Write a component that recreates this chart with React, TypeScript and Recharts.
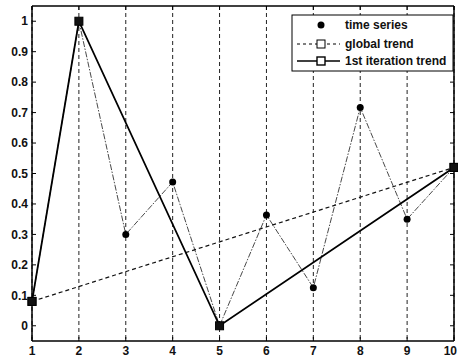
import React from 'react';
import { ComposedChart, Line, XAxis, YAxis, CartesianGrid } from 'recharts';

const xs = [1, 2, 3, 4, 5, 6, 7, 8, 9, 10];
const timeSeries = [0.08, 1.0, 0.3, 0.472, 0.0, 0.364, 0.125, 0.717, 0.35, 0.52];
const globalTrend: (number | null)[] = [0.08, null, null, null, null, null, null, null, null, 0.52];
const firstIteration: (number | null)[] = [0.08, 1.0, null, null, 0.0, null, null, null, null, 0.52];
const xTicks = [1, 2, 3, 4, 5, 6, 7, 8, 9, 10];
const yTicks = [0, 0.1, 0.2, 0.3, 0.4, 0.5, 0.6, 0.7, 0.8, 0.9, 1];
const legendLabels = ['time series', 'global trend', '1st iteration trend'];

const data = xs.map((x, i) => ({
  x,
  ts: timeSeries[i],
  global: globalTrend[i],
  first: firstIteration[i],
}));

const FONT = '"Liberation Sans", Arial, sans-serif';

const BottomTick = (props: any) => {
  const { x, y, payload } = props;
  const last = payload.value === xTicks[xTicks.length - 1];
  return (
    <g>
      <line x1={x} y1={y} x2={x} y2={y - 4} stroke="#000" strokeWidth={1} />
      <text
        x={last ? 457 : x}
        y={y + 10}
        dy="0.35em"
        textAnchor={last ? 'end' : 'middle'}
        fontSize={12}
        fontWeight="bold"
        fontFamily={FONT}
        fill="#111"
      >
        {payload.value}
      </text>
    </g>
  );
};

const TopTick = (props: any) => {
  const { x, y } = props;
  return <line x1={x} y1={y} x2={x} y2={y + 4} stroke="#000" strokeWidth={1} />;
};

const LeftTick = (props: any) => {
  const { x, y, payload } = props;
  return (
    <g>
      <line x1={x} y1={y} x2={x + 4} y2={y} stroke="#000" strokeWidth={1} />
      <text x={x - 4} y={y} dy="0.35em" textAnchor="end" fontSize={12} fontWeight="bold" fontFamily={FONT} fill="#111">
        {payload.value}
      </text>
    </g>
  );
};

const RightTick = (props: any) => {
  const { x, y } = props;
  return <line x1={x} y1={y} x2={x - 4} y2={y} stroke="#000" strokeWidth={1} />;
};

const squareDot = (props: any) => {
  const { cx, cy, value, index } = props;
  if (value == null || cy == null || isNaN(cy)) return <g key={`s-${index}`} />;
  return <rect key={`s-${index}`} x={cx - 4} y={cy - 4} width={8} height={8} fill="#111" stroke="#000" strokeWidth={1} />;
};

const circleDot = (props: any) => {
  const { cx, cy, index } = props;
  return <circle key={`c-${index}`} cx={cx} cy={cy} r={3.5} fill="#000" />;
};

const Legend = () => (
  <svg width={458} height={360} style={{ position: 'absolute', left: 0, top: 0, pointerEvents: 'none' }}>
    <g transform="translate(292,15)">
      <rect x={0} y={0} width={161} height={56} fill="#fff" stroke="#000" strokeWidth={1} />
      <circle cx={29} cy={10} r={3.5} fill="#000" />
      <line x1={5} y1={29} x2={48} y2={29} stroke="#000" strokeWidth={1} strokeDasharray="3 3" />
      <rect x={25} y={25} width={8} height={8} fill="#fff" stroke="#000" strokeWidth={1} />
      <line x1={5} y1={46} x2={48} y2={46} stroke="#000" strokeWidth={1.6} />
      <rect x={25} y={42} width={8} height={8} fill="#fff" stroke="#000" strokeWidth={1.4} />
      {legendLabels.map((t, i) => (
        <text key={t} x={53} y={[10, 29, 46][i]} dy="0.35em" fontSize={12} fontWeight="bold" fontFamily={FONT} fill="#111">
          {t}
        </text>
      ))}
    </g>
  </svg>
);

export default function App() {
  return (
    <div style={{ position: 'absolute', left: 0, top: 0, width: 458, height: 360, background: '#fff' }}>
      <ComposedChart width={458} height={360} data={data} margin={{ top: 5, right: 3, bottom: 18, left: 31 }}>
        <CartesianGrid horizontal={false} vertical={true} stroke="#222" strokeDasharray="4 3" strokeWidth={1} />
        <XAxis
          dataKey="x"
          type="number"
          domain={[1, 10]}
          ticks={xTicks}
          height={1}
          tickSize={0}
          tickMargin={0}
          tickLine={false}
          axisLine={{ stroke: '#000', strokeWidth: 1.5 }}
          tick={<BottomTick />}
          interval={0}
        />
        <XAxis
          xAxisId="top"
          orientation="top"
          dataKey="x"
          type="number"
          domain={[1, 10]}
          ticks={xTicks}
          height={1}
          tickSize={0}
          tickMargin={0}
          tickLine={false}
          axisLine={{ stroke: '#000', strokeWidth: 1.5 }}
          tick={<TopTick />}
          interval={0}
        />
        <YAxis
          type="number"
          domain={[-0.05, 1.05]}
          ticks={yTicks}
          width={1}
          tickSize={0}
          tickMargin={0}
          tickLine={false}
          axisLine={{ stroke: '#000', strokeWidth: 1.5 }}
          tick={<LeftTick />}
          interval={0}
          allowDataOverflow
        />
        <YAxis
          yAxisId="right"
          orientation="right"
          type="number"
          domain={[-0.05, 1.05]}
          ticks={yTicks}
          width={1}
          tickSize={0}
          tickMargin={0}
          tickLine={false}
          axisLine={{ stroke: '#000', strokeWidth: 1.5 }}
          tick={<RightTick />}
          interval={0}
          allowDataOverflow
        />
        <Line
          xAxisId="top"
          yAxisId="right"
          dataKey="ts"
          stroke="none"
          dot={false}
          activeDot={false}
          legendType="none"
          isAnimationActive={false}
        />
        <Line
          dataKey="ts"
          stroke="#333"
          strokeWidth={0.9}
          strokeDasharray="6 1.5 1.5 1.5"
          dot={circleDot}
          activeDot={false}
          isAnimationActive={false}
        />
        <Line
          dataKey="global"
          stroke="#111"
          strokeWidth={1.2}
          strokeDasharray="4 3"
          connectNulls
          dot={squareDot}
          activeDot={false}
          isAnimationActive={false}
        />
        <Line
          dataKey="first"
          stroke="#000"
          strokeWidth={1.8}
          connectNulls
          dot={squareDot}
          activeDot={false}
          isAnimationActive={false}
        />
      </ComposedChart>
      <Legend />
    </div>
  );
}
